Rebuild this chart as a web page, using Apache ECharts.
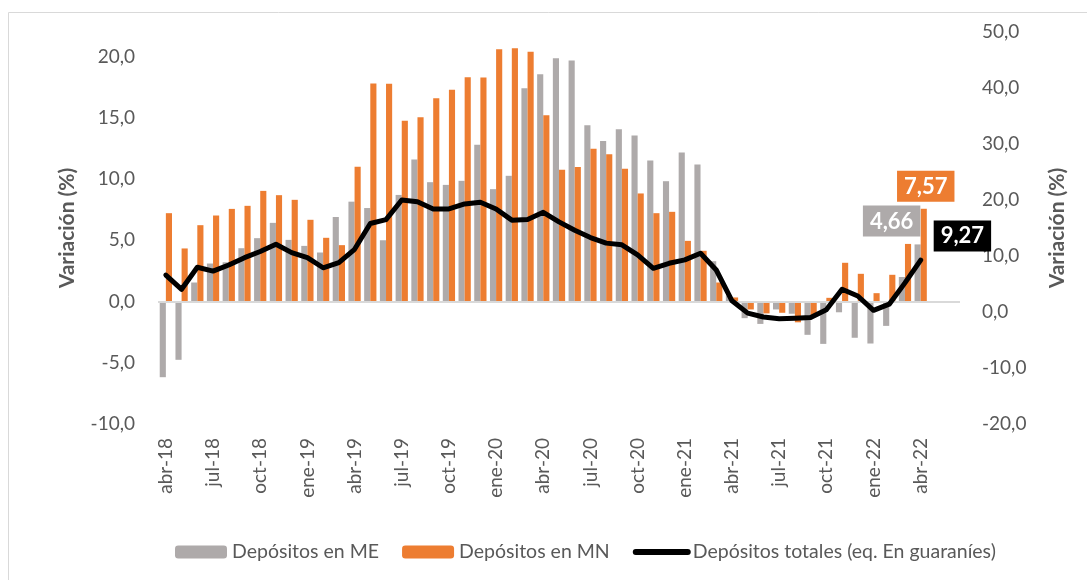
<!DOCTYPE html>
<html>
<head>
<meta charset="utf-8">
<script src="https://cdn.jsdelivr.net/npm/echarts@6/dist/echarts.min.js"></script>
<style>
  body { margin: 0; background: #fff; }
  #chart { width: 1087px; height: 580px; }
</style>
</head>
<body>
<div id="chart"></div>
<script>
// meses abr-18 .. abr-22 (+2 vacios al final del eje)
const months = [
  'abr-18','may-18','jun-18','jul-18','ago-18','sep-18','oct-18','nov-18','dic-18',
  'ene-19','feb-19','mar-19','abr-19','may-19','jun-19','jul-19','ago-19','sep-19','oct-19','nov-19','dic-19',
  'ene-20','feb-20','mar-20','abr-20','may-20','jun-20','jul-20','ago-20','sep-20','oct-20','nov-20','dic-20',
  'ene-21','feb-21','mar-21','abr-21','may-21','jun-21','jul-21','ago-21','sep-21','oct-21','nov-21','dic-21',
  'ene-22','feb-22','mar-22','abr-22','may-22','jun-22'
]

const depME = [
  -6.18, -4.76, 1.55, 3.1, 3.2, 4.35, 5.17, 6.42, 5.03,
  4.54, 4.0, 6.9, 8.15, 7.63, 5.0, 8.7, 11.6, 9.74, 9.52, 9.85, 12.79,
  9.17, 10.26, 17.4, 18.56, 19.86, 19.67, 14.39, 13.11, 14.07, 13.55, 11.51, 9.82,
  12.16, 11.18, 3.29, 0.5, -1.36, -1.83, -0.65, -1.0, -2.72, -3.46, -0.88, -2.96,
  -3.43, -1.99, 2.0, 4.66
]

const depMN = [
  7.21, 4.33, 6.23, 7.02, 7.56, 7.81, 9.03, 8.68, 8.3,
  6.67, 5.2, 4.6, 11.0, 17.8, 17.77, 14.75, 15.05, 16.6, 17.28, 18.3, 18.29,
  20.6, 20.68, 20.38, 15.2, 10.75, 10.97, 12.46, 12.03, 10.83, 8.82, 7.21, 7.32,
  4.95, 4.14, 1.55, 0.33, -0.65, -0.97, -0.92, -1.7, -1.2, 0.3, 3.16, 2.26,
  0.68, 2.18, 4.7, 7.57
]

const depTotal = [
  6.6, 4.05, 8.0, 7.3, 8.4, 9.7, 10.8, 12.1, 10.6,
  9.7, 7.9, 8.8, 11.2, 15.8, 16.5, 20.0, 19.7, 18.4, 18.4, 19.3, 19.6,
  18.4, 16.4, 16.5, 17.8, 16.1, 14.6, 13.3, 12.3, 12.0, 10.2, 7.8, 8.7,
  9.3, 10.5, 7.5, 2.0, -0.2, -0.9, -1.2, -1.13, -1.0, 0.4, 4.05, 2.86,
  0.3, 1.4, 5.2, 9.27
]

const FONT = 'Lato'
const TXT = '#595959'
const GREY = '#AEAAAA'
const ORANGE = '#ED7D31'

const fmt = v => v.toFixed(2).replace('.', ',')

function boxLabel(bg, extra) {
  return Object.assign({
    show: true,
    formatter: p => fmt(p.value),
    color: '#fff',
    fontFamily: FONT,
    fontWeight: 'bold',
    fontSize: 22,
    backgroundColor: bg,
    padding: [5, 7, 4, 7]
  }, extra)
}

const last = depME.length - 1

const meData = depME.map((v, i) => i === last
  ? { value: v, label: boxLabel(GREY, { position: 'top', distance: 8, offset: [-26, 0] }) }
  : v)
const mnData = depMN.map((v, i) => i === last
  ? { value: v, label: boxLabel(ORANGE, { position: 'top', distance: 7, offset: [2, 0] }) }
  : v)

const chart = echarts.init(document.getElementById('chart'))

const option = {
  animation: false,
  textStyle: { fontFamily: FONT },
  graphic: [{
    type: 'rect',
    shape: { x: 8.5, y: 12.5, width: 1200, height: 700 },
    style: { fill: 'none', stroke: '#d9d9d9', lineWidth: 1 }
  }],
  grid: { left: 158, right: 127, top: 32, bottom: 156 },
  legend: {
    left: 170,
    top: 537,
    itemWidth: 52,
    itemHeight: 13,
    itemGap: 23,
    textStyle: { color: TXT, fontSize: 19.5, fontFamily: FONT },
    data: [
      'Depósitos en ME',
      'Depósitos en MN',
      {
        name: 'Depósitos totales (eq. En guaraníes)',
        itemStyle: { opacity: 0 },
        lineStyle: { width: 6, cap: 'round', color: '#000' }
      }
    ]
  },
  xAxis: {
    type: 'category',
    data: months,
    axisLine: { show: false },
    axisTick: { show: false },
    axisLabel: {
      interval: 2,
      rotate: 90,
      margin: 14,
      color: TXT,
      fontSize: 19,
      fontFamily: FONT
    }
  },
  yAxis: [{
    type: 'value',
    min: -10,
    max: 22,
    interval: 5,
    name: 'Variación (%)',
    nameLocation: 'middle',
    nameGap: 80,
    nameTextStyle: { color: TXT, fontSize: 21, fontWeight: 'bold', fontFamily: FONT },
    splitLine: { show: false },
    axisLine: { show: false },
    axisTick: { show: false },
    axisLabel: {
      margin: 23,
      color: TXT,
      fontSize: 19,
      fontFamily: FONT,
      formatter: v => (v % 5 === 0 ? v.toFixed(1).replace('.', ',') : '')
    }
  }, {
    type: 'value',
    min: -20,
    max: 50,
    interval: 10,
    position: 'right',
    name: 'Variación (%)',
    nameLocation: 'middle',
    nameGap: 87,
    nameTextStyle: { color: TXT, fontSize: 21, fontWeight: 'bold', fontFamily: FONT },
    splitLine: { show: false },
    axisLine: { show: false },
    axisTick: { show: false },
    axisLabel: {
      margin: 22,
      color: TXT,
      fontSize: 19,
      fontFamily: FONT,
      formatter: v => v.toFixed(1).replace('.', ',')
    }
  }],
  series: [{
    name: 'Depósitos en ME',
    type: 'bar',
    yAxisIndex: 0,
    data: meData,
    itemStyle: { color: GREY },
    barGap: '0%',
    barCategoryGap: '22%',
    markLine: {
      silent: true,
      symbol: 'none',
      label: { show: false },
      lineStyle: { color: '#d9d9d9', width: 2, type: 'solid' },
      data: [{ yAxis: 0 }]
    }
  }, {
    name: 'Depósitos en MN',
    type: 'bar',
    yAxisIndex: 0,
    data: mnData,
    itemStyle: { color: ORANGE },
    barGap: '0%',
    barCategoryGap: '22%'
  }, {
    name: 'Depósitos totales (eq. En guaraníes)',
    type: 'line',
    yAxisIndex: 1,
    data: depTotal,
    symbol: 'none',
    z: 5,
    lineStyle: { color: '#000', width: 5, cap: 'round', join: 'round' },
    itemStyle: { color: '#000' },
    endLabel: {
      show: true,
      formatter: p => fmt(p.value),
      color: '#fff',
      fontFamily: FONT,
      fontWeight: 'bold',
      fontSize: 22,
      backgroundColor: '#000',
      padding: [5, 7, 4, 7],
      distance: 13,
      offset: [0, -24]
    }
  }]
}

chart.setOption(option)
</script>
</body>
</html>
